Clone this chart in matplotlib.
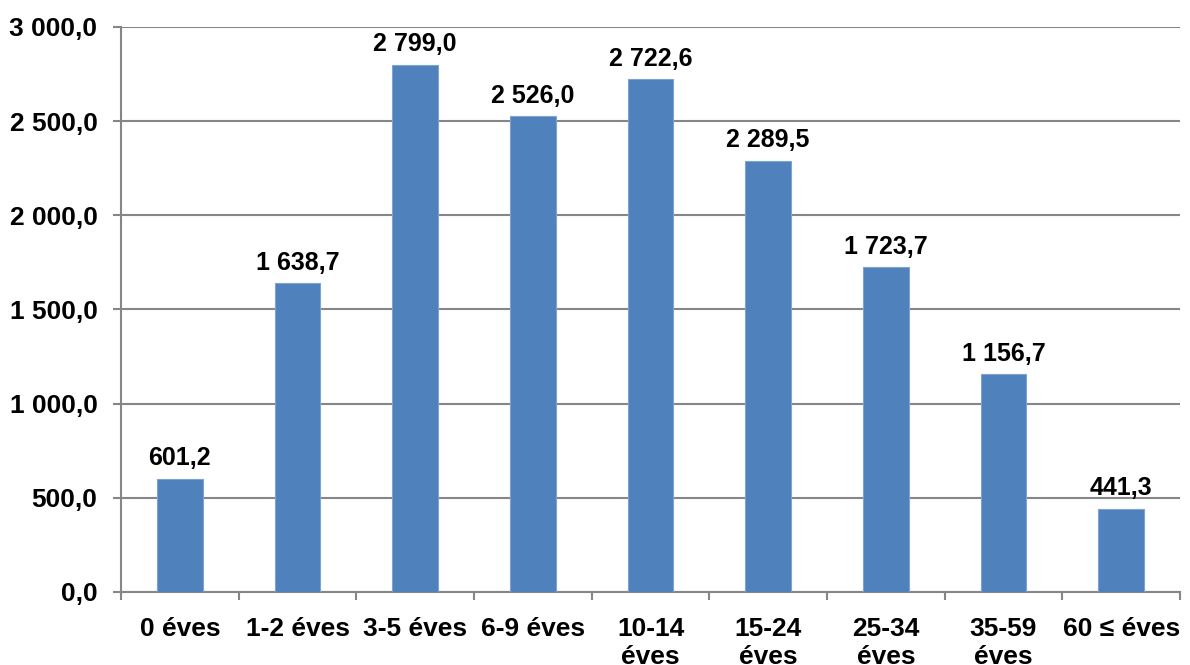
import numpy as np
import matplotlib.pyplot as plt

# age groups and values
categories = ['0 éves', '1-2 éves', '3-5 éves', '6-9 éves', '10-14\néves',
              '15-24\néves', '25-34\néves', '35-59\néves', '60 ≤ éves']
values = [601.2, 1638.7, 2799.0, 2526.0, 2722.6, 2289.5, 1723.7, 1156.7, 441.3]
yticks = [0, 500, 1000, 1500, 2000, 2500, 3000]


def hu_fmt(v):
    # Hungarian number style: space as thousands sep, comma as decimal
    s = f"{v:,.1f}"
    return s.replace(',', ' ').replace('.', ',')


plt.rcParams['font.family'] = ['Liberation Sans', 'DejaVu Sans']
plt.rcParams['font.weight'] = 'bold'

fig = plt.figure(figsize=(11.9, 6.65), dpi=100)
ax = fig.add_axes([0.1017, 0.1098, 0.8899, 0.8496])

grid_c = '#868686'
x = np.arange(len(categories))
ax.bar(x, values, width=0.39, color='#4F81BD', edgecolor='#7FA3D0',
       linewidth=0.8, zorder=3)

for xi, v in zip(x, values):
    ax.text(xi, v + 45, hu_fmt(v), ha='center', va='bottom',
            fontsize=18, fontweight='bold', color='black')

ax.set_xlim(-0.5, len(categories) - 0.5)
ax.set_ylim(0, 3000)
ax.set_yticks(yticks)
ax.set_yticklabels([hu_fmt(t) for t in yticks])
ax.yaxis.grid(True, color=grid_c, linewidth=1.5, zorder=0)

ax.set_xticks(np.arange(len(categories) + 1) - 0.5, minor=False)
ax.set_xticklabels([])
ax.set_xticks(x, minor=True)
ax.set_xticklabels(categories, minor=True, fontsize=19, fontweight='bold',
                   linespacing=1.2)
ax.tick_params(axis='x', which='minor', length=0, pad=18)
ax.tick_params(axis='x', which='major', length=6, width=1.5, color=grid_c)
ax.tick_params(axis='y', length=6, width=1.5, color=grid_c, pad=11,
               labelsize=19)

for side in ['top', 'right']:
    ax.spines[side].set_visible(False)
for side in ['left', 'bottom']:
    ax.spines[side].set_color(grid_c)
    ax.spines[side].set_linewidth(1.5)

fig.savefig('out.png', dpi=100)
